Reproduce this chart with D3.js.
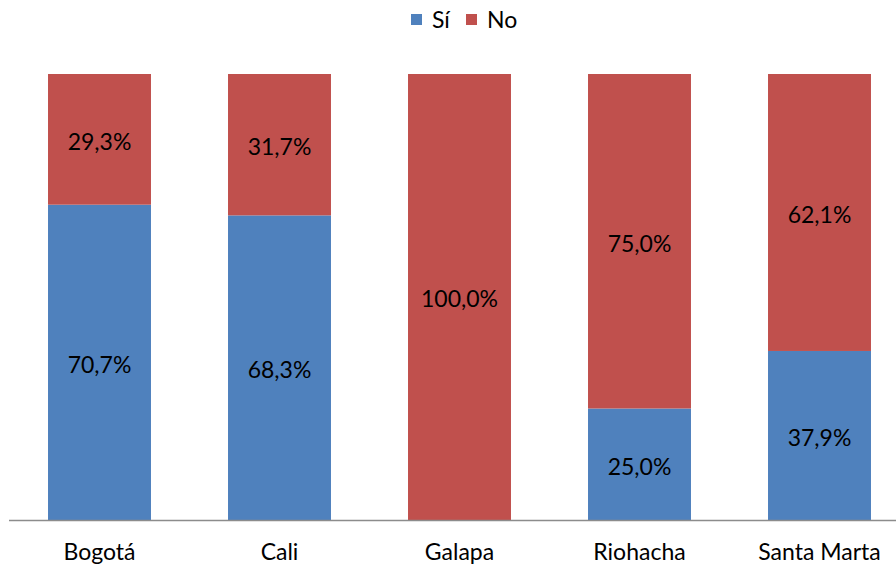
<!DOCTYPE html>
<html><head><meta charset="utf-8">
<script src="https://cdn.jsdelivr.net/npm/d3@7"></script>
<style>body{margin:0;background:#fff}svg{display:block}</style>
</head><body>
<svg id="c" width="896" height="568"></svg>
<script>
const categories = ["Bogotá","Cali","Galapa","Riohacha","Santa Marta"];
const seriesNames = ["Sí","No"];
const si = [70.7, 68.3, 0, 25.0, 37.9];
const no = [29.3, 31.7, 100.0, 75.0, 62.1];
const colors = ["#4F81BD","#C0504D"];

const svg = d3.select("#c");
const font = "Lato, 'Open Sans', sans-serif";
const fs = 23;
const x = d3.scaleBand().domain(categories).range([9.5, 909.5]).paddingInner(0.428).paddingOuter(0.214);
const y = d3.scaleLinear().domain([0,100]).range([520, 74]);

const rows = categories.map((c,i)=>({cat:c, "Sí":si[i], "No":no[i]}));
const stack = d3.stack().keys(seriesNames)(rows);
const fmt = v => v.toFixed(1).replace(".", ",") + "%";

stack.forEach((s, k) => {
  const g = svg.append("g");
  g.selectAll("rect").data(s).join("rect")
    .attr("x", d => x(d.data.cat))
    .attr("width", x.bandwidth())
    .attr("y", d => y(d[1]))
    .attr("height", d => y(d[0]) - y(d[1]))
    .attr("fill", colors[k]);
  g.selectAll("text").data(s.filter(d => d[1]-d[0] > 0)).join("text")
    .attr("x", d => x(d.data.cat) + x.bandwidth()/2)
    .attr("y", d => (y(d[0]) + y(d[1]))/2)
    .attr("dy", "0.45em")
    .attr("text-anchor", "middle")
    .attr("font-family", font).attr("font-size", fs).attr("fill", "#000")
    .text(d => fmt(d[1]-d[0]));
});

// axis
const ax = svg.append("g").attr("transform", "translate(0,520.5)")
  .call(d3.axisBottom(x).tickSize(0));
ax.select(".domain").attr("stroke", "#8c8c8c").attr("stroke-width", 1.5).attr("d", "M9,0H896");
ax.selectAll("text").attr("y", 39).attr("dy", 0)
  .attr("font-family", font).attr("font-size", fs).attr("fill", "#000");

// legend
const lg = svg.append("g");
const lx = [411, 466];
seriesNames.forEach((n,i) => {
  lg.append("rect").attr("x", lx[i]).attr("y", 14).attr("width", 11).attr("height", 11).attr("fill", colors[i]);
  lg.append("text").attr("x", lx[i] + 21).attr("y", 28)
    .attr("font-family", font).attr("font-size", fs).attr("fill", "#000").text(n);
});
</script>
</body></html>
